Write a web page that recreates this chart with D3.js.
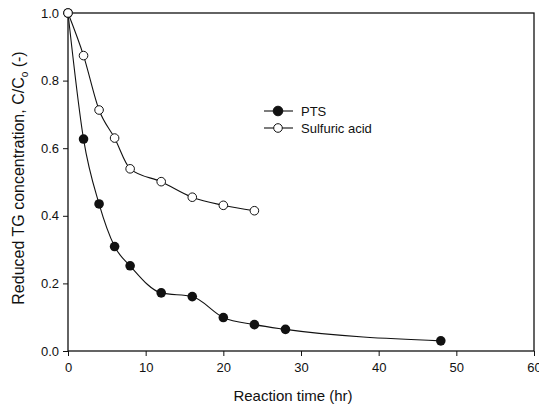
<!DOCTYPE html>
<html>
<head>
<meta charset="utf-8">
<script src="https://cdn.jsdelivr.net/npm/d3@7"></script>
<style>
  body { margin: 0; background: #fff; }
  text { font-family: "Liberation Sans", Arial, sans-serif; fill: #111; }
</style>
</head>
<body>
<div id="chart"></div>
<script>
// data
let ptsTime = [0, 2, 4, 6, 8, 12, 16, 20, 24, 28, 48];
let ptsConc = [1.0, 0.627, 0.435, 0.309, 0.252, 0.172, 0.161, 0.099, 0.078, 0.064, 0.030];
let acidTime = [0, 2, 4, 6, 8, 12, 16, 20, 24];
let acidConc = [1.0, 0.874, 0.713, 0.63, 0.539, 0.501, 0.455, 0.431, 0.415];
let xTicks = [0, 10, 20, 30, 40, 50, 60];
let yTicks = [0.0, 0.2, 0.4, 0.6, 0.8, 1.0];

let width = 539, height = 405;
let svg = d3.select("#chart").append("svg")
  .attr("width", width)
  .attr("height", height);

let xScale = d3.scaleLinear().domain([0, 60]).range([68, 534]);
let yScale = d3.scaleLinear().domain([0, 1]).range([351, 13]);

// frame
svg.append("rect")
  .attr("x", xScale(0)).attr("y", yScale(1))
  .attr("width", xScale(60) - xScale(0))
  .attr("height", yScale(0) - yScale(1))
  .attr("fill", "none").attr("stroke", "#111").attr("stroke-width", 1.3);

// axes
let xAxis = d3.axisBottom(xScale).tickValues(xTicks).tickSize(5).tickFormat(d3.format("d"));
let yAxis = d3.axisLeft(yScale).tickValues(yTicks).tickSize(5).tickFormat(d3.format(".1f"));

let gx = svg.append("g")
  .attr("transform", `translate(0,${yScale(0)})`)
  .call(xAxis);
let gy = svg.append("g")
  .attr("transform", `translate(${xScale(0)},0)`)
  .call(yAxis);
[gx, gy].forEach(g => {
  g.select(".domain").remove();
  g.selectAll("line").attr("stroke", "#111");
  g.selectAll("text").style("font-size", "13px").attr("fill", "#111");
});
gx.selectAll("text").attr("dy", "0.95em").attr("y", 9);
gy.selectAll("text").attr("x", -9);

// axis titles
svg.append("text")
  .attr("x", 293).attr("y", 401)
  .attr("text-anchor", "middle")
  .style("font-size", "15px")
  .text("Reaction time (hr)");

let yt = svg.append("text")
  .attr("transform", "translate(24,178) rotate(-90)")
  .attr("text-anchor", "middle")
  .style("font-size", "16px");
yt.append("tspan").text("Reduced TG concentration, C/C");
yt.append("tspan").attr("dy", 4).style("font-size", "10px").text("o");
yt.append("tspan").attr("dy", -4).text(" (-)");

// series lines
let line = d3.line()
  .x(d => xScale(d[0]))
  .y(d => yScale(d[1]))
  .curve(d3.curveMonotoneX);

let ptsData = ptsTime.map((t, i) => [t, ptsConc[i]]);
let acidData = acidTime.map((t, i) => [t, acidConc[i]]);

svg.append("path").datum(acidData)
  .attr("d", line).attr("fill", "none").attr("stroke", "#111").attr("stroke-width", 1.1);
svg.append("path").datum(ptsData)
  .attr("d", line).attr("fill", "none").attr("stroke", "#111").attr("stroke-width", 1.1);

svg.append("g").selectAll("circle")
  .data(ptsData).enter().append("circle")
  .attr("cx", d => xScale(d[0]))
  .attr("cy", d => yScale(d[1]))
  .attr("r", 4.8)
  .attr("fill", "#111");

svg.append("g").selectAll("circle")
  .data(acidData).enter().append("circle")
  .attr("cx", d => xScale(d[0]))
  .attr("cy", d => yScale(d[1]))
  .attr("r", 4.3)
  .attr("fill", "#fff")
  .attr("stroke", "#111")
  .attr("stroke-width", 1);

// legend
let legend = [
  { name: "PTS", y: 111, fill: "#111", r: 4.8 },
  { name: "Sulfuric acid", y: 128, fill: "#fff", r: 4.3 }
];
let lg = svg.append("g").selectAll("g").data(legend).enter().append("g");
lg.append("line")
  .attr("x1", 264).attr("x2", 293)
  .attr("y1", d => d.y).attr("y2", d => d.y)
  .attr("stroke", "#111").attr("stroke-width", 1.1);
lg.append("circle")
  .attr("cx", 278).attr("cy", d => d.y).attr("r", d => d.r)
  .attr("fill", d => d.fill).attr("stroke", "#111");
lg.append("text")
  .attr("x", 301).attr("y", d => d.y + 5)
  .style("font-size", "13px")
  .text(d => d.name);
</script>
</body>
</html>
